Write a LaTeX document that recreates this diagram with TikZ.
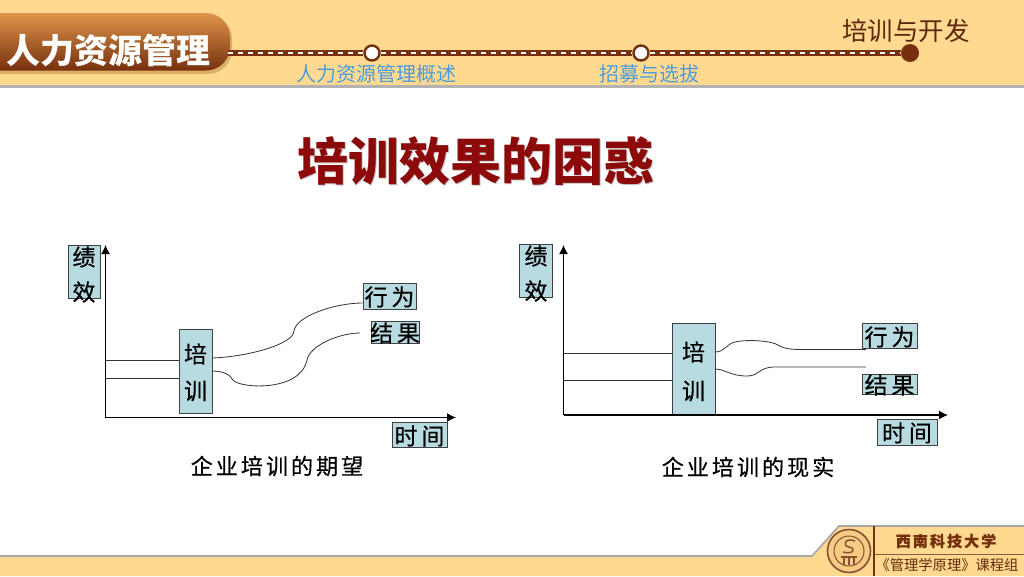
\documentclass[tikz,border=0pt]{standalone}
\usepackage{fontspec}
\usepackage{xcolor}
\usetikzlibrary{positioning,shapes,arrows.meta}
\setmainfont{Noto Sans CJK SC}
\newfontfamily\cjkwide[LetterSpace=14,FakeBold=0.5]{Noto Sans CJK SC}
\newfontfamily\cjkheavy[FakeBold=0.5]{Noto Sans CJK SC}
\definecolor{headbg}{HTML}{FFD98F}
\definecolor{brownd}{HTML}{76300E}
\definecolor{pilltop}{HTML}{E0954A}
\definecolor{pillshadow}{HTML}{DDAE66}
\definecolor{boxblue}{HTML}{B7DBE0}
\definecolor{subblue}{HTML}{4C9DDC}
\definecolor{titlered}{HTML}{8C0A0A}

\begin{document}
\begin{tikzpicture}[x=1pt,y=-1pt]
\useasboundingbox (0,0) rectangle (1024,576);
\tikzstyle{bluebox}=[draw=black!75,line width=0.9pt,fill=boxblue,inner sep=0pt]
\tikzstyle{boxtext}=[inner sep=0pt,font=\cjkheavy\fontsize{23}{23}\selectfont]
\tikzstyle{caption}=[inner sep=0pt,font=\cjkwide\fontsize{22}{22}\selectfont]
\tikzstyle{subtext}=[inner sep=0pt,text=subblue,font=\fontsize{20}{20}\selectfont]
\tikzstyle{axis}=[line width=1.3pt,-{Latex[length=9pt,width=9pt]}]
\tikzstyle{curve}=[line width=0.8pt,black!80]
\tikzstyle{ring}=[draw=brownd,line width=2.4pt,fill=white,circle,inner sep=0pt,minimum size=15pt]

% header and footer bands
\fill[white] (0,0) rectangle (1024,576);
\fill[headbg] (0,0) rectangle (1024,85);
\fill[black!30] (0,85) rectangle (1024,87.5);
\fill[headbg] (0,576) -- (0,556) -- (812,556) -- (839,526) -- (1024,526) -- (1024,576) -- cycle;
\draw[black!35,line width=1.6pt] (0,556) -- (812,556) -- (839,526) -- (1024,526);

% top bar
\fill[rounded corners=24pt,fill=pillshadow] (-30,15) rectangle (232,74);
\shade[rounded corners=24pt,top color=pilltop,bottom color=brownd] (-30,13) rectangle (230,70.5);
\node[inner sep=0pt,text=white,font=\bfseries\fontsize{34}{34}\selectfont] (hrm) at (108,51) {人力资源管理};
\coordinate (barL) at (228,53);
\node[ring] (st1) at (372,53) {};
\node[ring] (st2) at (641,53) {};
\node[circle,fill=brownd,inner sep=0pt,minimum size=18pt] (st3) at (910,53) {};
\draw[brownd,line width=5.5pt] (barL) -- (st1) (st1) -- (st2) (st2) -- (st3);
\draw[white,line width=2pt,dash pattern=on 5pt off 5pt] (barL) -- (st1) (st1) -- (st2) (st2) -- (st3);
\node[subtext] (sub1) at (376.5,74) {人力资源管理概述};
\node[subtext] (sub2) at (649,74) {招募与选拔};
\node[inner sep=0pt,text=brownd!80!black,font=\fontsize{25.4}{26}\selectfont] (sec) at (906,31) {培训与开发};

% title
\node[inner sep=0pt,text=black!22,font=\bfseries\fontsize{51}{51}\selectfont] (titleS) at (477,162) {培训效果的困惑};
\node[inner sep=0pt,text=titlered,font=\bfseries\fontsize{51}{51}\selectfont] (title) at (476,161) {培训效果的困惑};

% left chart
\coordinate (oL) at (105.5,417.5);
\coordinate (yL) at (105.5,245);
\coordinate (xL) at (456,417.5);
\node[bluebox,minimum width=32.5pt,minimum height=53pt] (jxL) at (84.5,271.5) {};
\node[bluebox,minimum width=33pt,minimum height=84pt] (pxL) at (195.5,371) {};
\node[bluebox,minimum width=53pt,minimum height=26pt] (xwL) at (389.5,296) {};
\node[bluebox,minimum width=48pt,minimum height=22pt] (jgL) at (395,332) {};
\node[bluebox,minimum width=55pt,minimum height=25pt] (sjL) at (419.5,434.5) {};
\draw[axis] (oL) -- (yL);
\draw[axis] (oL) -- (xL);
\node[boxtext] (j1L) at (84,257) {绩};
\node[boxtext] (j2L) at (84,292) {效};
\node[boxtext] (p1L) at (195.5,354) {培};
\node[boxtext] (p2L) at (195.5,391) {训};
\node[boxtext] (xwtL) at (389.5,297) {行\,为};
\node[boxtext] (jgtL) at (395,333) {结\,果};
\node[boxtext] (sjtL) at (419.5,436) {时\,间};
\node[caption] (capL) at (277,466) {企业培训的期望};
\coordinate (a1L) at (105.5,360.5);
\coordinate (a2L) at (105.5,378);
\coordinate (e2L) at (360,333);
\draw[curve] (a1L) -- (a1L -| pxL.west);
\draw[curve] (a2L) -- (a2L -| pxL.west);
\draw[curve] (212,358) .. controls (245,357) and (293,345) .. (294,331)
  .. controls (296,316) and (335,303) .. (xwL.west |- 0,303);
\draw[curve] (212,371) .. controls (222,371) and (230,374) .. (233,380)
  .. controls (238,388) and (300,393) .. (307,360)
  .. controls (310,345) and (340,333) .. (e2L);

% right chart
\coordinate (oR) at (563.5,415);
\coordinate (yR) at (563.5,245);
\coordinate (xR) at (948,415);
\node[bluebox,minimum width=32.5pt,minimum height=52.5pt] (jxR) at (536,271) {};
\node[bluebox,minimum width=43pt,minimum height=92pt] (pxR) at (693.5,369) {};
\node[bluebox,minimum width=55pt,minimum height=25pt] (xwR) at (889.5,335.5) {};
\node[bluebox,minimum width=55pt,minimum height=20pt] (jgR) at (889.5,384) {};
\node[bluebox,minimum width=60pt,minimum height=26pt] (sjR) at (907,432) {};
\draw[axis] (oR) -- (yR);
\draw[axis] (oR) -- (xR);
\node[boxtext] (j1R) at (536,256) {绩};
\node[boxtext] (j2R) at (536,291) {效};
\node[boxtext] (p1R) at (693.5,352) {培};
\node[boxtext] (p2R) at (693.5,391) {训};
\node[boxtext] (xwtR) at (889.5,337) {行\,为};
\node[boxtext] (jgtR) at (889.5,385) {结\,果};
\node[boxtext] (sjtR) at (907,433) {时\,间};
\node[caption] (capR) at (748,467) {企业培训的现实};
\coordinate (a1R) at (563.5,353.5);
\coordinate (a2R) at (563.5,380);
\coordinate (e1R) at (866,349.5);
\coordinate (e2R) at (866,367);
\draw[curve] (a1R) -- (a1R -| pxR.west);
\draw[curve] (a2R) -- (a2R -| pxR.west);
\draw[curve] (715,352) .. controls (725,352) and (726,344) .. (735,342)
  .. controls (748,339) and (772,341) .. (778,345)
  .. controls (785,349) and (790,349.5) .. (805,349.5) -- (e1R);
\draw[curve] (715,369) .. controls (725,369) and (730,376) .. (747,376)
  .. controls (760,376) and (758,367) .. (775,367) -- (e2R);

% footer logo
\fill[headbg!85!brown] (849,551) circle (22pt);
\draw[brownd!85,line width=1.6pt] (849,551) circle (21.5pt);
\draw[brownd!85,line width=1pt] (849,551) circle (15pt);
\draw[brownd!85,line width=1.5pt] (855,541) .. controls (845,537) and (842,546) .. (849,547)
  .. controls (856,548) and (854,555) .. (843,552);
\draw[brownd!85,line width=1.5pt] (841,557) -- (857,557) (844,557) -- (844,565) (849,557) -- (849,565) (854,557) -- (854,565);
\draw[brownd,line width=1.8pt] (874,526) -- (874,576);
\draw[brownd!80,line width=0.8pt] (875,554) -- (1024,554);
\node[inner sep=0pt,text=brownd,font=\cjkwide\bfseries\fontsize{15}{15}\selectfont] (univ) at (946,541) {西南科技大学};
\node[inner sep=0pt,text=brownd!85!black,font=\fontsize{14.3}{15}\selectfont] (course) at (947,565) {《管理学原理》课程组};
\end{tikzpicture}
\end{document}
